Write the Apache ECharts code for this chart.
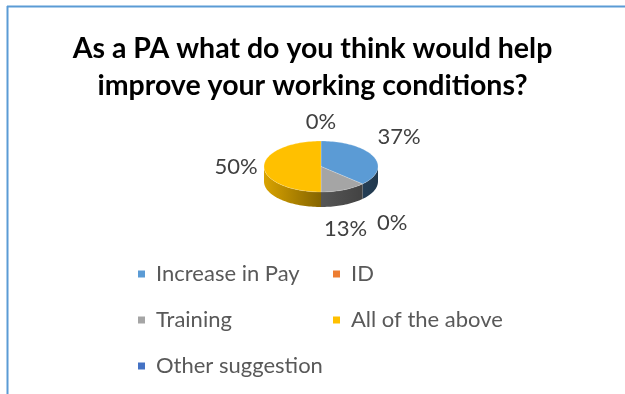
<!DOCTYPE html>
<html>
<head>
<meta charset="utf-8">
<script src="https://cdn.jsdelivr.net/npm/echarts@6/dist/echarts.min.js"></script>
<style>
  html, body { margin: 0; padding: 0; background: #ffffff; }
  #chart { width: 625px; height: 394px; }
</style>
</head>
<body>
<div id="chart"></div>
<script>
// Survey answers and their share of responses (percent)
const categories = ['Increase in Pay', 'ID', 'Training', 'All of the above', 'Other suggestion'];
const shares = [37, 0, 13, 50, 0];

// Legend columns
const legendLeft = ['Increase in Pay', 'Training', 'Other suggestion'];
const legendRight = ['ID', 'All of the above'];

// Slice colours (Office palette)
const sliceColors = ['#5B9BD5', '#ED7D31', '#A5A5A5', '#FFC000', '#4472C4'];

// Tilted pie geometry: centre, ellipse radii and wall height
const PIE = { cx: 321, cy: 166.5, rx: 57, ry: 25.5, depth: 15 };
const FONT = 'Lato, "Open Sans", sans-serif';
const LABEL_SIZE = 22;

const total = shares.reduce((a, b) => a + b, 0);

function shade(hex, f) {
  const n = parseInt(hex.slice(1), 16);
  const r = Math.round(((n >> 16) & 255) * f);
  const g = Math.round(((n >> 8) & 255) * f);
  const b = Math.round((n & 255) * f);
  return 'rgb(' + r + ',' + g + ',' + b + ')';
}

// point on the rim; angle in degrees clockwise from 12 o'clock
function rim(deg, dy) {
  const r = deg * Math.PI / 180;
  return [PIE.cx + PIE.rx * Math.sin(r), PIE.cy - PIE.ry * Math.cos(r) + (dy || 0)];
}

function arc(a0, a1, dy) {
  const pts = [];
  const n = Math.max(2, Math.ceil((a1 - a0) / 2));
  for (let k = 0; k <= n; k++) pts.push(rim(a0 + (a1 - a0) * k / n, dy));
  return pts;
}

// start / end angle of every slice
const angles = (function () {
  let acc = 0;
  return shares.map(v => {
    const a0 = acc / total * 360;
    acc += v;
    return [a0, acc / total * 360];
  });
})();

// label text, position and box for every slice; overlapping labels are pushed apart
const labels = (function () {
  const ctx = document.createElement('canvas').getContext('2d');
  ctx.font = LABEL_SIZE + 'px ' + FONT;
  const out = shares.map((v, i) => {
    const mid = (angles[i][0] + angles[i][1]) / 2;
    const rad = mid * Math.PI / 180;
    const s = Math.sin(rad), c = Math.cos(rad);
    const vs = c > 0.2 ? 1 : (c < -0.2 ? -1 : 0);
    const edge = rim(mid, vs < 0 ? PIE.depth : 0);
    const text = Math.round(v / total * 100) + '%';
    return { text: text, x: edge[0] + s * 28, y: edge[1] - vs * (vs < 0 ? 24 : 19), w: ctx.measureText(text).width, h: LABEL_SIZE };
  });
  const gap = 10;
  for (let pass = 0; pass < 4; pass++) {
    for (let a = 0; a < out.length; a++) {
      for (let b = 0; b < out.length; b++) {
        if (a === b) continue;
        const L = out[a], R = out[b];
        if (L.x > R.x || Math.abs(L.y - R.y) >= (L.h + R.h) / 2) continue;
        const overlap = (L.x + L.w / 2 + gap) - (R.x - R.w / 2);
        if (overlap > 0) { L.x -= overlap / 2; R.x += overlap / 2; }
      }
    }
  }
  return out;
})();

function sliceItem(params, api) {
  const i = params.seriesIndex;
  const a0 = angles[i][0], a1 = angles[i][1];
  const color = api.visual('color');
  const children = [];

  if (a1 > a0) {
    // visible wall on the front half of the disc
    const s0 = Math.max(a0, 90), s1 = Math.min(a1, 270);
    if (s1 > s0) {
      const pts = arc(s0, s1, 0).concat(arc(s0, s1, PIE.depth).reverse());
      children.push({
        type: 'polygon', z2: 1,
        shape: { points: pts },
        style: {
          fill: new echarts.graphic.LinearGradient(PIE.cx - PIE.rx, 0, PIE.cx + PIE.rx, 0, [
            { offset: 0, color: shade(color, 0.85) },
            { offset: 0.5, color: shade(color, 0.52) },
            { offset: 1, color: shade(color, 0.36) }
          ], true)
        }
      });
    }
    const face = [[PIE.cx, PIE.cy]].concat(arc(a0, a1, 0));
    children.push({
      type: 'polygon', z2: 10,
      shape: { points: face },
      style: { fill: color, stroke: 'rgba(255,255,255,0.35)', lineWidth: 0.6 }
    });
  }

  const lb = labels[i];
  children.push({
    type: 'text', z2: 20,
    style: {
      text: lb.text,
      x: lb.x, y: lb.y,
      align: 'center', verticalAlign: 'middle',
      fontFamily: FONT, fontSize: LABEL_SIZE, fill: '#404040'
    }
  });

  return { type: 'group', children: children };
}

const chart = echarts.init(document.getElementById('chart'), null, { renderer: 'canvas' });

const legendCommon = {
  orient: 'vertical',
  icon: 'rect',
  itemWidth: 7,
  itemHeight: 7,
  itemGap: 22,
  padding: 0,
  selectedMode: false,
  textStyle: { fontFamily: FONT, fontSize: 22, lineHeight: 24, color: '#595959', padding: [0, 0, 0, 6] }
};

chart.setOption({
  animation: false,
  color: sliceColors,
  title: {
    text: 'As a PA what do you think would help\nimprove your working conditions?',
    left: 'center',
    top: 30,
    padding: 0,
    textStyle: { fontFamily: FONT, fontSize: 28.5, fontWeight: 'bold', lineHeight: 37, color: '#000000' }
  },
  legend: [
    Object.assign({}, legendCommon, { data: legendLeft, left: 138, top: 262 }),
    Object.assign({}, legendCommon, { data: legendRight, left: 333, top: 262 })
  ],
  graphic: [
    { type: 'line', shape: { x1: 7.5, y1: 6, x2: 7.5, y2: 394 }, style: { stroke: '#5B9BD5', lineWidth: 2 } },
    { type: 'line', shape: { x1: 7, y1: 6.5, x2: 625, y2: 6.5 }, style: { stroke: '#5B9BD5', lineWidth: 2 } }
  ],
  series: categories.map((name, i) => ({
    type: 'custom',
    name: name,
    coordinateSystem: 'none',
    renderItem: sliceItem,
    data: [[shares[i]]]
  }))
});
</script>
</body>
</html>
